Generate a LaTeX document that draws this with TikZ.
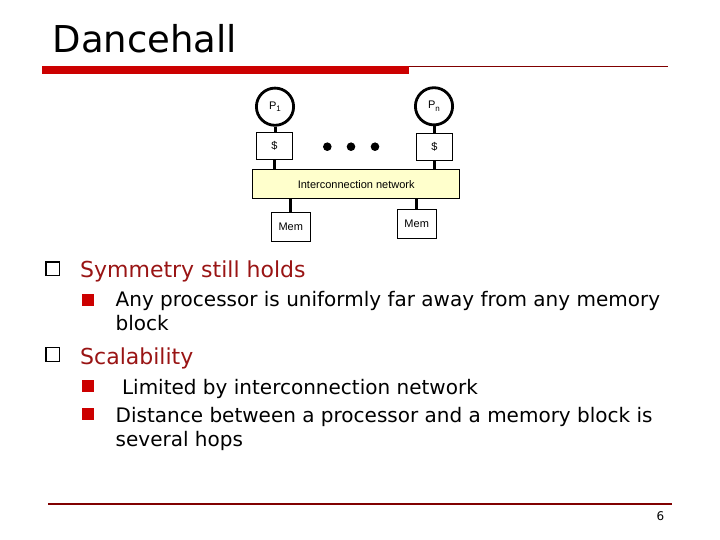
\documentclass[tikz,border=0pt]{standalone}
\usepackage{fontspec}
\setmainfont{DejaVu Sans}
\newfontfamily\arialfont{Liberation Sans}
\usetikzlibrary{calc}
\definecolor{barred}{RGB}{204,0,0}
\definecolor{linered}{RGB}{128,0,0}
\definecolor{headred}{RGB}{153,20,20}
\definecolor{netfill}{RGB}{255,255,204}
\newcommand{\lowidx}[1]{\raisebox{-2.5bp}{\fontsize{8bp}{9bp}\selectfont #1}}
\tikzset{
    proc/.style={
        circle, draw=black, line width=2.8bp, minimum size=37.2bp, inner sep=0pt,
        font=\arialfont\fontsize{11bp}{13bp}\selectfont
    },
    cachebox/.style={
        rectangle, draw=black, line width=0.9bp, minimum width=36.6bp,
        minimum height=27bp, inner sep=0pt, font=\arialfont\fontsize{11bp}{13bp}\selectfont
    },
    netbox/.style={
        rectangle, draw=black, line width=0.9bp, fill=netfill, minimum width=206.7bp,
        minimum height=28.7bp, inner sep=0pt, font=\arialfont\fontsize{11bp}{13bp}\selectfont
    },
    membox/.style={
        rectangle, draw=black, line width=0.9bp, minimum width=39.3bp,
        minimum height=29bp, inner sep=0pt, font=\arialfont\fontsize{11bp}{13bp}\selectfont
    },
    link/.style={line width=3bp, black},
    dotnode/.style={circle, fill=black, minimum size=8.6bp, inner sep=0pt},
    headtext/.style={anchor=base west, inner sep=0pt, text=headred, font=\fontsize{22bp}{26bp}\selectfont},
    subtext/.style={anchor=base west, inner sep=0pt, font=\fontsize{20bp}{24bp}\selectfont},
    openbullet/.style={rectangle, draw=black, line width=1.3bp, minimum size=13.5bp, inner sep=0pt},
    redbullet/.style={rectangle, fill=barred, minimum size=12bp, inner sep=0pt},
}

\begin{document}
\begin{tikzpicture}[x=1bp, y=-1bp]
    \useasboundingbox (0,0) rectangle (720,540);

    % title and rule
    \node [anchor=base west, inner sep=0pt, font=\fontsize{37bp}{40bp}\selectfont]
        (title) at (52.5,53) {Dancehall};
    \fill [barred] (42,65.7) rectangle (409,74);
    \draw [linered, line width=1bp] (409,66.2) -- (668,66.2);

    % processors and caches
    \node [proc] (p1) at (275,106.7) {P\lowidx{1}};
    \node [proc] (pn) at (434,106.3) {P\lowidx{n}};
    \node [cachebox] (c1) at (274.5,145.8) {\$};
    \node [cachebox] (cn) at (434.5,147) {\$};

    \node [dotnode] (d1) at (327.3,146.7) {};
    \node [dotnode] (d2) at (351,146.7) {};
    \node [dotnode] (d3) at (375,146.7) {};

    \node [netbox] (net) at (356.2,184.2) {Interconnection network};

    \node [membox] (m1) at (290.8,226.7) {Mem};
    \node [membox] (mn) at (416.7,224.2) {Mem};

    \draw [link] (p1.south) -- (p1.south |- c1.north);
    \draw [link] (pn.south) -- (pn.south |- cn.north);
    \draw [link] (c1.south) -- (c1.south |- net.north);
    \draw [link] (cn.south) -- (cn.south |- net.north);
    \draw [link] (m1.north |- net.south) -- (m1.north);
    \draw [link] (mn.north |- net.south) -- (mn.north);

    % bullets
    \node [openbullet] (b1) at (52.8,268.8) {};
    \node [headtext] (h1) at (80,277.5) {Symmetry still holds};
    \node [redbullet] (s1) at (88,300) {};
    \node [subtext] (t1) at (115.5,306) {Any processor is uniformly far away from any memory};
    \node [subtext] (t1b) at (115.5,330) {block};

    \node [openbullet] (b2) at (52.8,354.5) {};
    \node [headtext] (h2) at (80,364) {Scalability};
    \node [redbullet] (s2) at (88,385.5) {};
    \node [subtext] (t2) at (115.5,394) {\ Limited by interconnection network};
    \node [redbullet] (s3) at (88,414) {};
    \node [subtext] (t3) at (115.5,422.5) {Distance between a processor and a memory block is};
    \node [subtext] (t3b) at (115.5,446.5) {several hops};

    % footer
    \draw [linered, line width=1.2bp] (48,504) -- (672,504);
    \node [anchor=base, inner sep=0pt, font=\fontsize{12bp}{14bp}\selectfont] (page) at (660.5,520) {6};
\end{tikzpicture}
\end{document}
